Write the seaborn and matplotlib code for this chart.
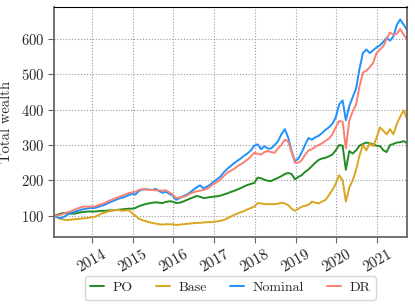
import pandas as pd
import matplotlib
matplotlib.use('Agg')
import matplotlib.pyplot as plt
import matplotlib.dates as mdates
import seaborn as sns

# monthly values (Jan 2013 .. Sep 2021)
dates = pd.date_range('2013-01-01', '2021-09-01', freq='MS') + pd.Timedelta(days=24)

po = [100, 103, 106, 108, 107, 106, 106, 108, 110, 111, 112, 112,
      112, 113, 114, 114, 115, 115, 116, 117, 118, 119, 120, 120,
      122, 127, 130, 133, 135, 137, 138, 137, 136, 139, 141, 140,
      136, 137, 140, 144, 148, 152, 156, 154, 150, 151, 153, 154,
      155, 157, 160, 163, 167, 170, 174, 178, 183, 187, 190, 193,
      208, 206, 202, 199, 198, 203, 207, 212, 218, 221, 218, 203,
      210, 215, 224, 231, 240, 250, 258, 262, 264, 268, 273, 285,
      300, 298, 230, 283, 276, 285, 298, 303, 307, 305, 302, 298,
      297, 285, 280, 300, 303, 307, 308, 311, 305]

base = [100, 95, 91, 89, 88, 89, 90, 91, 92, 93, 94, 96,
        97, 101, 106, 109, 112, 114, 116, 117, 114, 115, 116, 108,
        100, 92, 88, 85, 82, 80, 78, 76, 75, 76, 76, 76,
        74, 75, 76, 77, 78, 79, 80, 80, 81, 82, 82, 83,
        84, 86, 88, 92, 97, 102, 106, 110, 113, 118, 122, 126,
        136, 135, 133, 133, 133, 133, 134, 137, 135, 130, 120, 114,
        120, 126, 128, 131, 140, 137, 135, 140, 145, 158, 173, 190,
        215, 200, 140, 180, 200, 230, 270, 300, 285, 305, 297, 320,
        350, 340, 330, 345, 330, 360, 380, 398, 373]

nominal = [100, 96, 93, 97, 103, 108, 111, 114, 117, 119, 121, 122,
           122, 125, 128, 131, 136, 140, 144, 148, 151, 154, 158, 162,
           160, 170, 174, 175, 174, 173, 176, 170, 165, 168, 162, 157,
           145, 150, 155, 159, 165, 173, 180, 186, 178, 182, 188, 196,
           203, 211, 222, 232, 240, 248, 255, 262, 270, 276, 285, 298,
           302, 288, 297, 290, 290, 300, 310, 330, 345, 321, 283, 254,
           262, 280, 300, 320, 315, 322, 326, 334, 343, 350, 360, 378,
           415, 426, 370, 410, 435, 460, 515, 560, 570, 560, 568, 576,
           582, 592, 603, 595, 607, 640, 655, 640, 625]

dr = [100, 101, 103, 106, 110, 113, 117, 121, 124, 126, 126, 126,
      126, 130, 133, 136, 141, 145, 149, 153, 156, 160, 164, 166,
      168, 173, 175, 175, 173, 173, 172, 172, 171, 172, 166, 160,
      150, 152, 153, 156, 162, 166, 169, 171, 173, 176, 183, 190,
      195, 202, 212, 221, 227, 232, 240, 245, 252, 259, 268, 278,
      275, 273, 280, 283, 280, 278, 290, 300, 315, 310, 280, 250,
      250, 258, 272, 285, 288, 295, 300, 305, 312, 318, 330, 350,
      368, 366, 290, 370, 395, 415, 465, 505, 510, 520, 532, 560,
      570, 580, 600, 618, 612, 615, 628, 612, 598]

methods = ['PO', 'Base', 'Nominal', 'DR']
colors = {'PO': 'forestgreen', 'Base': 'goldenrod', 'Nominal': 'dodgerblue', 'DR': 'salmon'}

df = pd.DataFrame({'date': dates, 'PO': po, 'Base': base, 'Nominal': nominal, 'DR': dr})
long_df = df.melt(id_vars='date', var_name='method', value_name='wealth')

sns.set_style('ticks')
plt.rcParams['font.family'] = 'serif'
plt.rcParams['font.serif'] = ['cmr10']
plt.rcParams['mathtext.fontset'] = 'cm'
plt.rcParams['axes.formatter.use_mathtext'] = True
plt.rcParams['font.size'] = 10

fig, ax = plt.subplots(figsize=(4.15, 3.07), dpi=100)
fig.subplots_adjust(left=0.130, right=0.981, top=0.977, bottom=0.228)

sns.lineplot(data=long_df, x='date', y='wealth', hue='method', hue_order=methods,
             palette=colors, linewidth=1.4, ax=ax, legend=False)

ax.set_xlim(dates[0], dates[-1])
ax.set_ylim(40, 690)
ax.set_xlabel('')
ax.set_ylabel('Total wealth', fontsize=10.5)
ax.yaxis.set_label_coords(-0.115, 0.5)
ax.xaxis.set_major_locator(mdates.YearLocator())
ax.xaxis.set_major_formatter(mdates.DateFormatter('%Y'))
plt.setp(ax.get_xticklabels(), rotation=30, ha='center')
ax.tick_params(axis='x', labelsize=11, color='0.4', length=4)
ax.tick_params(axis='y', labelsize=10.5, color='0.4', length=4, pad=3)
ax.grid(True, linestyle=':', color='0.6', linewidth=0.8)

for side in ['left', 'bottom', 'right']:
    ax.spines[side].set_color('0.4')
    ax.spines[side].set_linewidth(1.3)
ax.spines['top'].set_color('black')

handles = [plt.Line2D([], [], color=colors[m], linewidth=1.4) for m in methods]
fig.legend(handles, methods, loc='center', bbox_to_anchor=(0.555, 0.062), ncol=4,
           handlelength=1.0, handletextpad=0.6, columnspacing=1.7, fontsize=10,
           frameon=True, edgecolor='0.8')

plt.savefig('out.png', dpi=100)
